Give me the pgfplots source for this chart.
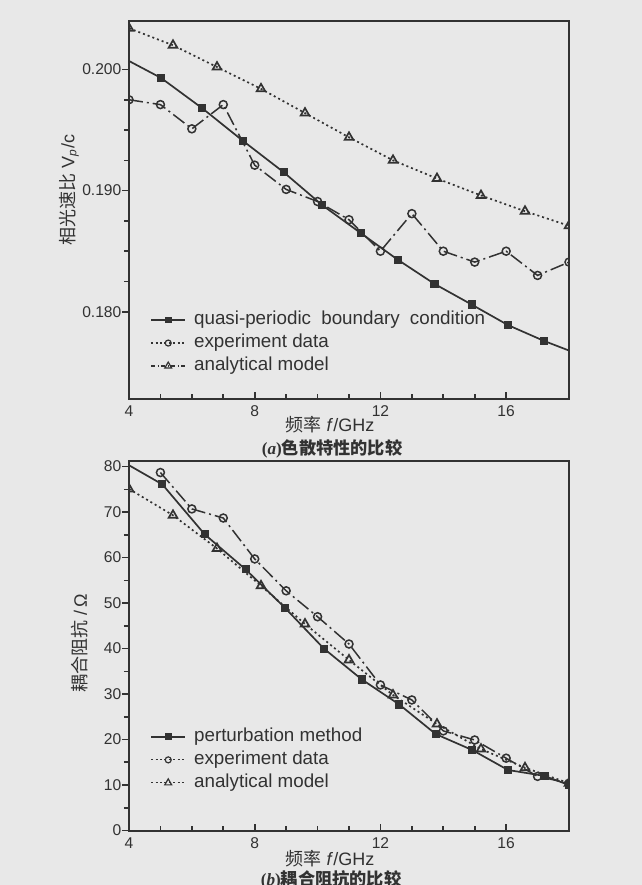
\documentclass[border=0pt]{standalone}
\usepackage{pgfplots}
\pgfplotsset{compat=1.18}
\usepackage{fontspec}
\setmainfont{Liberation Sans}
\newfontfamily\cjk{Noto Sans CJK SC}
\newfontfamily\capserif{Liberation Serif}

\definecolor{paper}{RGB}{232,232,232}
\definecolor{ink}{RGB}{50,50,50}

% shared look of both panels
\pgfplotsset{
  panel/.style={
    scale only axis, width=220pt,
    xmin=4, xmax=18, xtick={4,8,12,16}, minor x tick num=3,
    xtick pos=bottom, ytick pos=left,
    xtick align=inside, ytick align=outside,
    clip marker paths=true,
    axis line style={ink, line width=1pt},
    tick style={ink, line width=0.8pt},
    major tick length=3.5pt, minor tick length=2.5pt,
    tick label style={font=\fontsize{7.8}{9}\selectfont, text=ink},
    yticklabel style={xshift=3.2pt},
    /pgf/number format/assume math mode=true,
    legend cell align=left,
    legend style={draw=none, fill=none, anchor=west,
      font=\fontsize{9.4}{11}\selectfont, text=ink,
      row sep=0pt, column sep=4pt,
      nodes={inner sep=0pt, text height=8pt, text depth=3.5pt}},
  },
  solidsq/.style={ink, line width=0.85pt, mark=square*, mark size=1.6pt,
    mark options={solid, fill=ink}},
  expcirc/.style={ink, line width=0.75pt,
    dash pattern=on 7pt off 2pt on 1pt off 2pt,
    mark=o, mark size=2pt, mark options={solid, fill=paper}},
  anatri/.style={ink, line width=0.85pt, dash pattern=on 1pt off 1.5pt,
    mark=triangle, mark size=2.5pt, mark options={solid, fill=paper}},
}

\begin{document}
\begin{tikzpicture}
\useasboundingbox (0,0) rectangle (321pt,-442.5pt);
\fill[paper] (0,0) rectangle (321pt,-442.5pt);

% (a) dispersion
\begin{axis}[panel,
  at={(64.5pt,-199.5pt)}, anchor=south west, height=189pt,
  ymin=0.1728, ymax=0.2040,
  ytick={0.180,0.190,0.200}, minor y tick num=3,
  yticklabel style={/pgf/number format/.cd, fixed, fixed zerofill, precision=3},
  legend style={at={(0.034,0.148)}},
]
\addplot[solidsq, mark indices={2,3,4,5,6,7,8,9,10,11,12}, forget plot] coordinates {
  (4.00,0.2007) (5.02,0.1993) (6.33,0.1968) (7.63,0.1941) (8.93,0.1915)
  (10.15,0.1888) (11.37,0.1865) (12.55,0.1843) (13.72,0.1823)
  (14.90,0.1806) (16.06,0.1789) (17.20,0.1776) (18.00,0.1768)};
\addplot[expcirc, forget plot] coordinates {
  (4,0.1975) (5,0.1971) (6,0.1951) (7,0.1971) (8,0.1921) (9,0.1901)
  (10,0.1891) (11,0.1876) (12,0.1850) (13,0.1881) (14,0.1850)
  (15,0.1841) (16,0.1850) (17,0.1830) (18,0.1841)};
\addplot[anatri, forget plot] coordinates {
  (4.0,0.2034) (5.4,0.2020) (6.8,0.2002) (8.2,0.1984) (9.6,0.1964)
  (11.0,0.1944) (12.4,0.1925) (13.8,0.1910) (15.2,0.1896)
  (16.6,0.1883) (18.0,0.1871)};
\addlegendimage{ink, line width=0.8pt, mark=square*, mark size=1.3pt, mark options={fill=ink}}
\addlegendentry{quasi-periodic\hspace{2.5pt} boundary\hspace{2.5pt} condition}
\addlegendimage{ink, line width=0.6pt, dash pattern=on 1pt off 1.2pt, mark=o, mark size=1.5pt, mark options={solid, fill=paper}}
\addlegendentry{experiment data}
\addlegendimage{ink, line width=0.6pt, dash pattern=on 2pt off 1.2pt on 0.6pt off 1.2pt, mark=triangle, mark size=2pt, mark options={solid, fill=paper}}
\addlegendentry{analytical model}
\end{axis}

% (b) coupling impedance
\begin{axis}[panel,
  at={(64.5pt,-415.25pt)}, anchor=south west, height=184.9pt,
  ymin=0, ymax=81.3,
  ytick={0,10,...,80}, minor y tick num=1,
  legend style={at={(0.034,0.191)}},
]
\addplot[solidsq, mark indices={2,3,4,5,6,7,8,9,10,11,12,13}, forget plot] coordinates {
  (4.00,80.3) (5.06,76.1) (6.41,65.1) (7.71,57.4) (8.97,48.9)
  (10.20,40.0) (11.41,33.2) (12.60,27.7) (13.76,21.2) (14.92,17.7)
  (16.06,13.3) (17.22,12.0) (18.00,10.0)};
\addplot[expcirc, forget plot] coordinates {
  (5,78.7) (6,70.7) (7,68.7) (8,59.7) (9,52.7) (10,47.0) (11,41.0)
  (12,32.0) (13,28.7) (14,21.9) (15,19.9) (16,15.9) (17,11.9) (18,10.4)};
\addplot[anatri, forget plot] coordinates {
  (4.0,75.1) (5.4,69.3) (6.8,62.0) (8.2,53.8) (9.6,45.4) (11.0,37.5)
  (12.4,29.8) (13.8,23.4) (15.2,17.9) (16.6,13.8) (18.0,10.4)};
\addlegendimage{ink, line width=0.8pt, mark=square*, mark size=1.3pt, mark options={fill=ink}}
\addlegendentry{perturbation method}
\addlegendimage{ink, line width=0.6pt, dash pattern=on 1pt off 1.2pt, mark=o, mark size=1.5pt, mark options={solid, fill=paper}}
\addlegendentry{experiment data}
\addlegendimage{ink, line width=0.6pt, dash pattern=on 1pt off 1.2pt, mark=triangle, mark size=2pt, mark options={solid, fill=paper}}
\addlegendentry{analytical model}
\end{axis}

% axis titles and captions
\begin{scope}[every node/.style={text=ink, inner sep=0pt}]
\node[rotate=90, font=\fontsize{9}{10}\selectfont] at (34.5pt,-95pt)
  {{\cjk 相光速比} V\textsubscript{\itshape p}/c};
\node[font=\fontsize{9}{10}\selectfont] at (165pt,-212.5pt)
  {{\cjk 频率} \textit{f}/GHz};
\node[font=\fontsize{8.6}{10}\selectfont] at (166pt,-224.3pt)
  {{\capserif\bfseries(\textit{a})}{\cjk\bfseries 色散特性的比较}};
\node[rotate=90, font=\fontsize{9}{10}\selectfont] at (40pt,-321.5pt)
  {{\cjk 耦合阻抗} /\,Ω};
\node[font=\fontsize{9}{10}\selectfont] at (165pt,-429.2pt)
  {{\cjk 频率} \textit{f}/GHz};
\node[font=\fontsize{8.6}{10}\selectfont] at (165.5pt,-440pt)
  {{\capserif\bfseries(\textit{b})}{\cjk\bfseries 耦合阻抗的比较}};
\end{scope}
\end{tikzpicture}
\end{document}
